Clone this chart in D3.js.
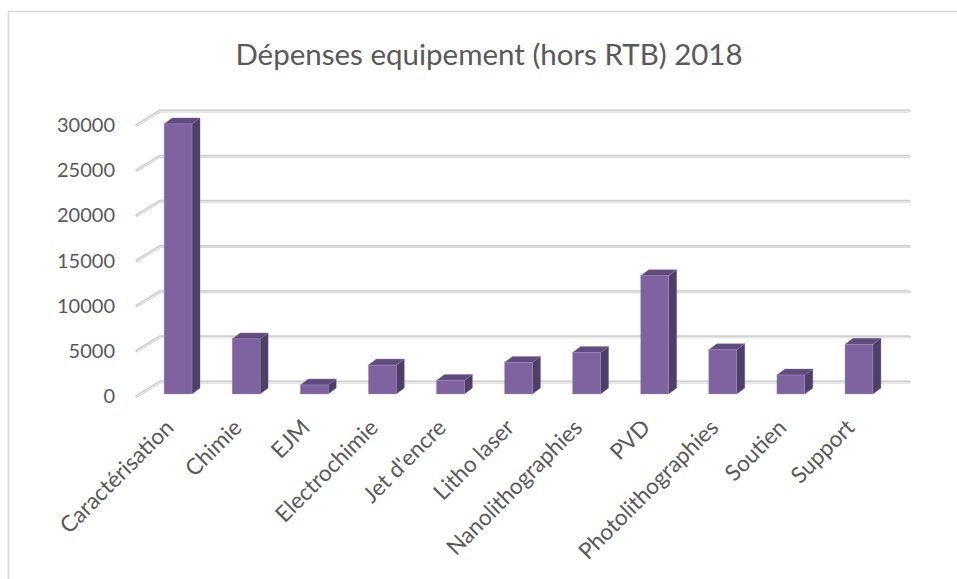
<!DOCTYPE html>
<html>
<head>
<meta charset="utf-8">
<script src="https://cdn.jsdelivr.net/npm/d3@7"></script>
<style>
  html, body { margin: 0; padding: 0; background: #ffffff; }
  svg { display: block; }
  text { font-family: Lato, "Open Sans", sans-serif; fill: #595959; }
</style>
</head>
<body>
<svg id="chart" width="957" height="579"></svg>
<script>
// Equipment spending by category, 2018 (excluding RTB)
const categories = ["Caractérisation", "Chimie", "EJM", "Electrochimie", "Jet d'encre",
  "Litho laser", "Nanolithographies", "PVD", "Photolithographies", "Soutien", "Support"];
const spending = [29900, 6100, 1000, 3200, 1500, 3500, 4600, 13100, 4900, 2100, 5500];
const yTicks = [0, 5000, 10000, 15000, 20000, 25000, 30000];
const chartTitle = "Dépenses equipement (hors RTB) 2018";

const svg = d3.select("#chart");

// outer frame of the chart area
svg.append("rect")
  .attr("x", 8.5).attr("y", 11.5)
  .attr("width", 1000).attr("height", 1000)
  .attr("fill", "none").attr("stroke", "#d9d9d9").attr("stroke-width", 1.6);

// back wall scales
const x = d3.scalePoint(categories, [160, 909]).padding(0.5);
const y = d3.scaleLinear([0, 30000], [382, 111]);

// oblique depth offsets, relative to the back wall
const floorFront = { dx: -23, dy: 14 };
const barFront = { dx: -16, dy: 12 };
const barDepth = { dx: 8, dy: -6 };
const barW = x.step() * 0.41;

// gridlines: back-wall line plus oblique floor/side edge
const grid = svg.append("g");
yTicks.forEach(v => {
  const yy = y(v);
  const path = `M${160 + floorFront.dx},${yy + floorFront.dy}L160,${yy}L909,${yy}`;
  grid.append("path").attr("d", path).attr("fill", "none")
    .attr("stroke", "#cdcdcd").attr("stroke-width", 3).attr("stroke-linecap", "round")
    .attr("stroke-linejoin", "round");
  grid.append("path").attr("d", path).attr("fill", "none")
    .attr("stroke", "#ececec").attr("stroke-width", 1).attr("transform", "translate(0,0.5)");
});

// y axis labels
svg.append("g").selectAll("text").data(yTicks).join("text")
  .attr("x", 115)
  .attr("y", d => y(d) + floorFront.dy)
  .attr("dy", "0.35em")
  .attr("text-anchor", "end")
  .attr("font-size", 20)
  .text(d => d);

// 3D columns
const bars = svg.append("g");
categories.forEach((c, i) => {
  const v = spending[i];
  const cx = x(c) + barFront.dx;
  const x0 = cx - barW / 2, x1 = cx + barW / 2;
  const yb = y(0) + barFront.dy, yt = y(v) + barFront.dy;
  const ddx = barDepth.dx, ddy = barDepth.dy;
  // side face
  bars.append("path")
    .attr("d", `M${x1},${yb}L${x1 + ddx},${yb + ddy}L${x1 + ddx},${yt + ddy}L${x1},${yt}Z`)
    .attr("fill", "#4f3e67").attr("stroke", "#6f5f88").attr("stroke-width", 0.4);
  // top face
  bars.append("path")
    .attr("d", `M${x0},${yt}L${x0 + ddx},${yt + ddy}L${x1 + ddx},${yt + ddy}L${x1},${yt}Z`)
    .attr("fill", "#604b7f").attr("stroke", "#8a79a4").attr("stroke-width", 0.4);
  // front face
  bars.append("rect")
    .attr("x", x0).attr("y", yt)
    .attr("width", barW).attr("height", yb - yt)
    .attr("fill", "#7e63a0").attr("stroke", "#a898bf").attr("stroke-width", 0.4);
});

// category labels, rotated
svg.append("g").selectAll("text").data(categories).join("text")
  .attr("transform", d => `translate(${x(d) + barFront.dx - 3},${429}) rotate(-45)`)
  .attr("text-anchor", "end")
  .attr("font-size", 22.5)
  .text(d => d);

// title
svg.append("text")
  .attr("x", 489).attr("y", 65)
  .attr("text-anchor", "middle")
  .attr("font-size", 29.5)
  .text(chartTitle);
</script>
</body>
</html>
